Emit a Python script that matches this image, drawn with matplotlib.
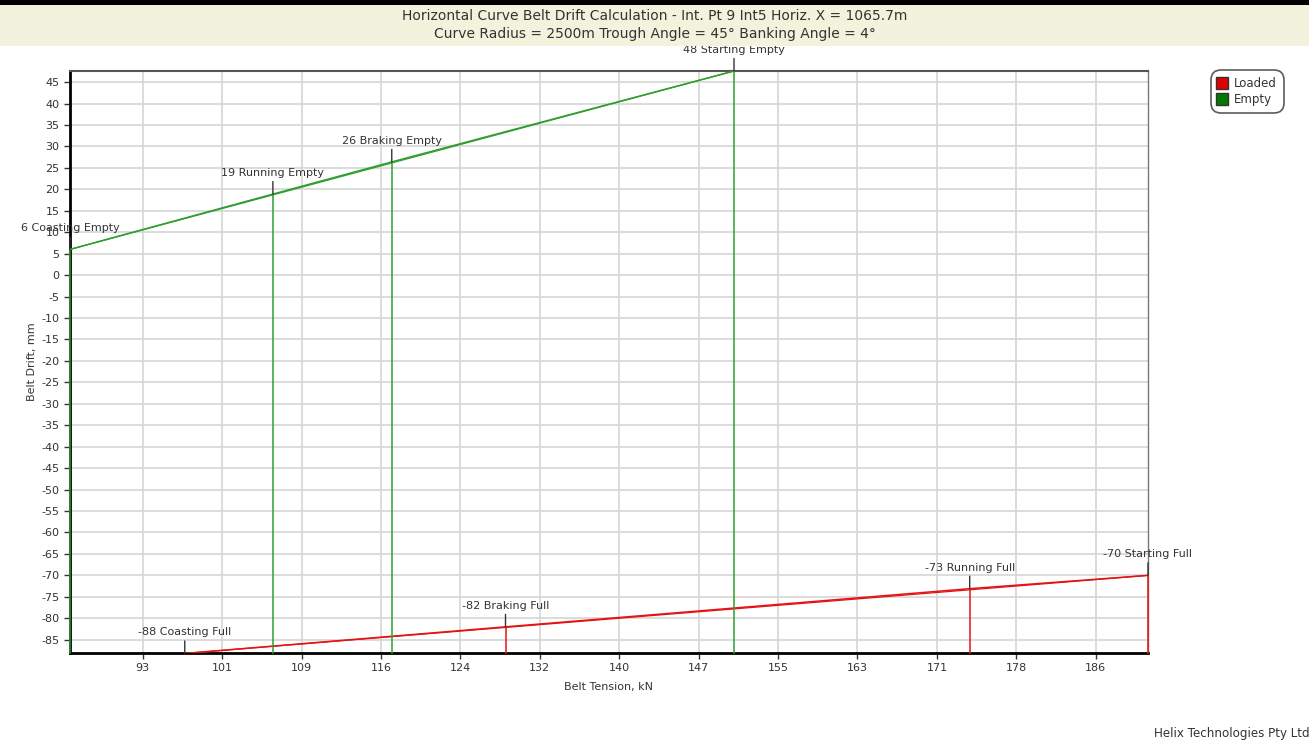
import matplotlib
matplotlib.use("Agg")
import matplotlib.pyplot as plt
from matplotlib.patches import Rectangle
from matplotlib.lines import Line2D

# ---- data ----
title_lines = ["Horizontal Curve Belt Drift Calculation - Int. Pt 9 Int5 Horiz. X = 1065.7m",
               "Curve Radius = 2500m Trough Angle = 45\u00b0 Banking Angle = 4\u00b0"]

empty_tension = [85.9, 105.7, 117.3, 150.7]
empty_drift = [6.0, 18.9, 26.4, 47.6]
empty_labels = ["6 Coasting Empty", "19 Running Empty", "26 Braking Empty", "48 Starting Empty"]

loaded_tension = [97.1, 128.4, 173.7, 191.1]
loaded_drift = [-88.2, -82.0, -73.1, -70.0]
loaded_labels = ["-88 Coasting Full", "-82 Braking Full", "-73 Running Full", "-70 Starting Full"]

x_tick_values = [93.0, 100.75, 108.5, 116.25, 124.0, 131.75, 139.5, 147.25, 155.0, 162.75, 170.5, 178.25, 186.0]
x_tick_labels = ["93", "101", "109", "116", "124", "132", "140", "147", "155", "163", "171", "178", "186"]
y_tick_values = list(range(-85, 50, 5))

x_limits = (85.9, 191.1)
y_limits = (-88.1, 47.6)

GREEN = "#2f9e2f"
RED = "#e41414"
TXT = "#333333"

plt.rcParams['font.family'] = ['DejaVu Sans']
plt.rcParams['axes.unicode_minus'] = False

fig = plt.figure(figsize=(13.09, 7.42), dpi=100)

# title band
fig.patches.append(Rectangle((0, 1 - 46 / 742), 1, 41 / 742, transform=fig.transFigure,
                             facecolor="#f3f3dd", edgecolor="none", zorder=0))
fig.patches.append(Rectangle((0, 1 - 5 / 742), 1, 5 / 742, transform=fig.transFigure,
                             facecolor="black", edgecolor="none", zorder=0))
fig.text(655 / 1309, 1 - 16 / 742, title_lines[0], ha="center", va="center", fontsize=10, color=TXT)
fig.text(655 / 1309, 1 - 34 / 742, title_lines[1], ha="center", va="center", fontsize=10, color=TXT)

ax = fig.add_axes([70 / 1309, 1 - 653 / 742, (1148 - 70) / 1309, (653 - 71) / 742])
ax.set_xlim(*x_limits)
ax.set_ylim(*y_limits)
ax.set_xticks(x_tick_values)
ax.set_xticklabels(x_tick_labels)
ax.set_yticks(y_tick_values)
ax.tick_params(axis="both", labelsize=8, colors=TXT, length=4, width=1)
ax.grid(True, color="#d6d6d6", linewidth=1.2)
ax.set_axisbelow(True)
for side in ["left", "bottom"]:
    ax.spines[side].set_linewidth(2)
    ax.spines[side].set_color("black")
ax.spines["top"].set_color("#555555")
ax.spines["top"].set_linewidth(1.5)
ax.spines["right"].set_color("#777777")
ax.spines["right"].set_linewidth(1)

ax.set_xlabel("Belt Tension, kN", fontsize=8, color=TXT, labelpad=6)
ax.set_ylabel("Belt Drift, mm", fontsize=8, color=TXT, labelpad=3)


def draw_series(tension, drift, labels, color):
    order = sorted(range(len(tension)), key=lambda i: tension[i])
    xs = [tension[i] for i in order]
    ys = [drift[i] for i in order]
    ax.plot(xs, ys, color=color, linewidth=1.1, zorder=3)
    ax.plot([xs[0], xs[-1]], [ys[0], ys[-1]], color=color, linewidth=0.9, zorder=3)
    for x, y, lab in zip(tension, drift, labels):
        ax.plot([x, x], [y_limits[0], y], color=color, linewidth=1.1, zorder=4, clip_on=False)
        ax.annotate("", xy=(x, y), xytext=(0, 9), textcoords="offset points",
                    arrowprops=dict(arrowstyle="-", color="#333333", lw=1, shrinkA=0, shrinkB=0),
                    annotation_clip=False, zorder=5)
        ax.annotate(lab, xy=(x, y), xytext=(0, 11.5), textcoords="offset points",
                    ha="center", va="bottom", fontsize=8, color=TXT, annotation_clip=False, zorder=6)


draw_series(empty_tension, empty_drift, empty_labels, GREEN)
draw_series(loaded_tension, loaded_drift, loaded_labels, RED)

handles = [Line2D([], [], marker="s", linestyle="none", markersize=8, markerfacecolor="#e00000",
                  markeredgecolor="#333333", label="Loaded"),
           Line2D([], [], marker="s", linestyle="none", markersize=8, markerfacecolor="#007a00",
                  markeredgecolor="#333333", label="Empty")]
leg = fig.legend(handles=handles, loc="upper left", bbox_to_anchor=(1213 / 1309, 1 - 72 / 742),
                 fontsize=8.5, frameon=True, fancybox=True, handlelength=0.8, handletextpad=0.6,
                 borderpad=0.4, labelspacing=0.3, borderaxespad=0)
leg.get_frame().set_edgecolor("#333333")
leg.get_frame().set_linewidth(1.2)
leg.get_frame().set_boxstyle("round,pad=0.15,rounding_size=0.8")
for t in leg.get_texts():
    t.set_color(TXT)

fig.text(1154 / 1309, 1 - 733 / 742, "Helix Technologies Pty Ltd", ha="left", va="center",
         fontsize=8.6, color=TXT)

fig.savefig("out.png", dpi=100)
